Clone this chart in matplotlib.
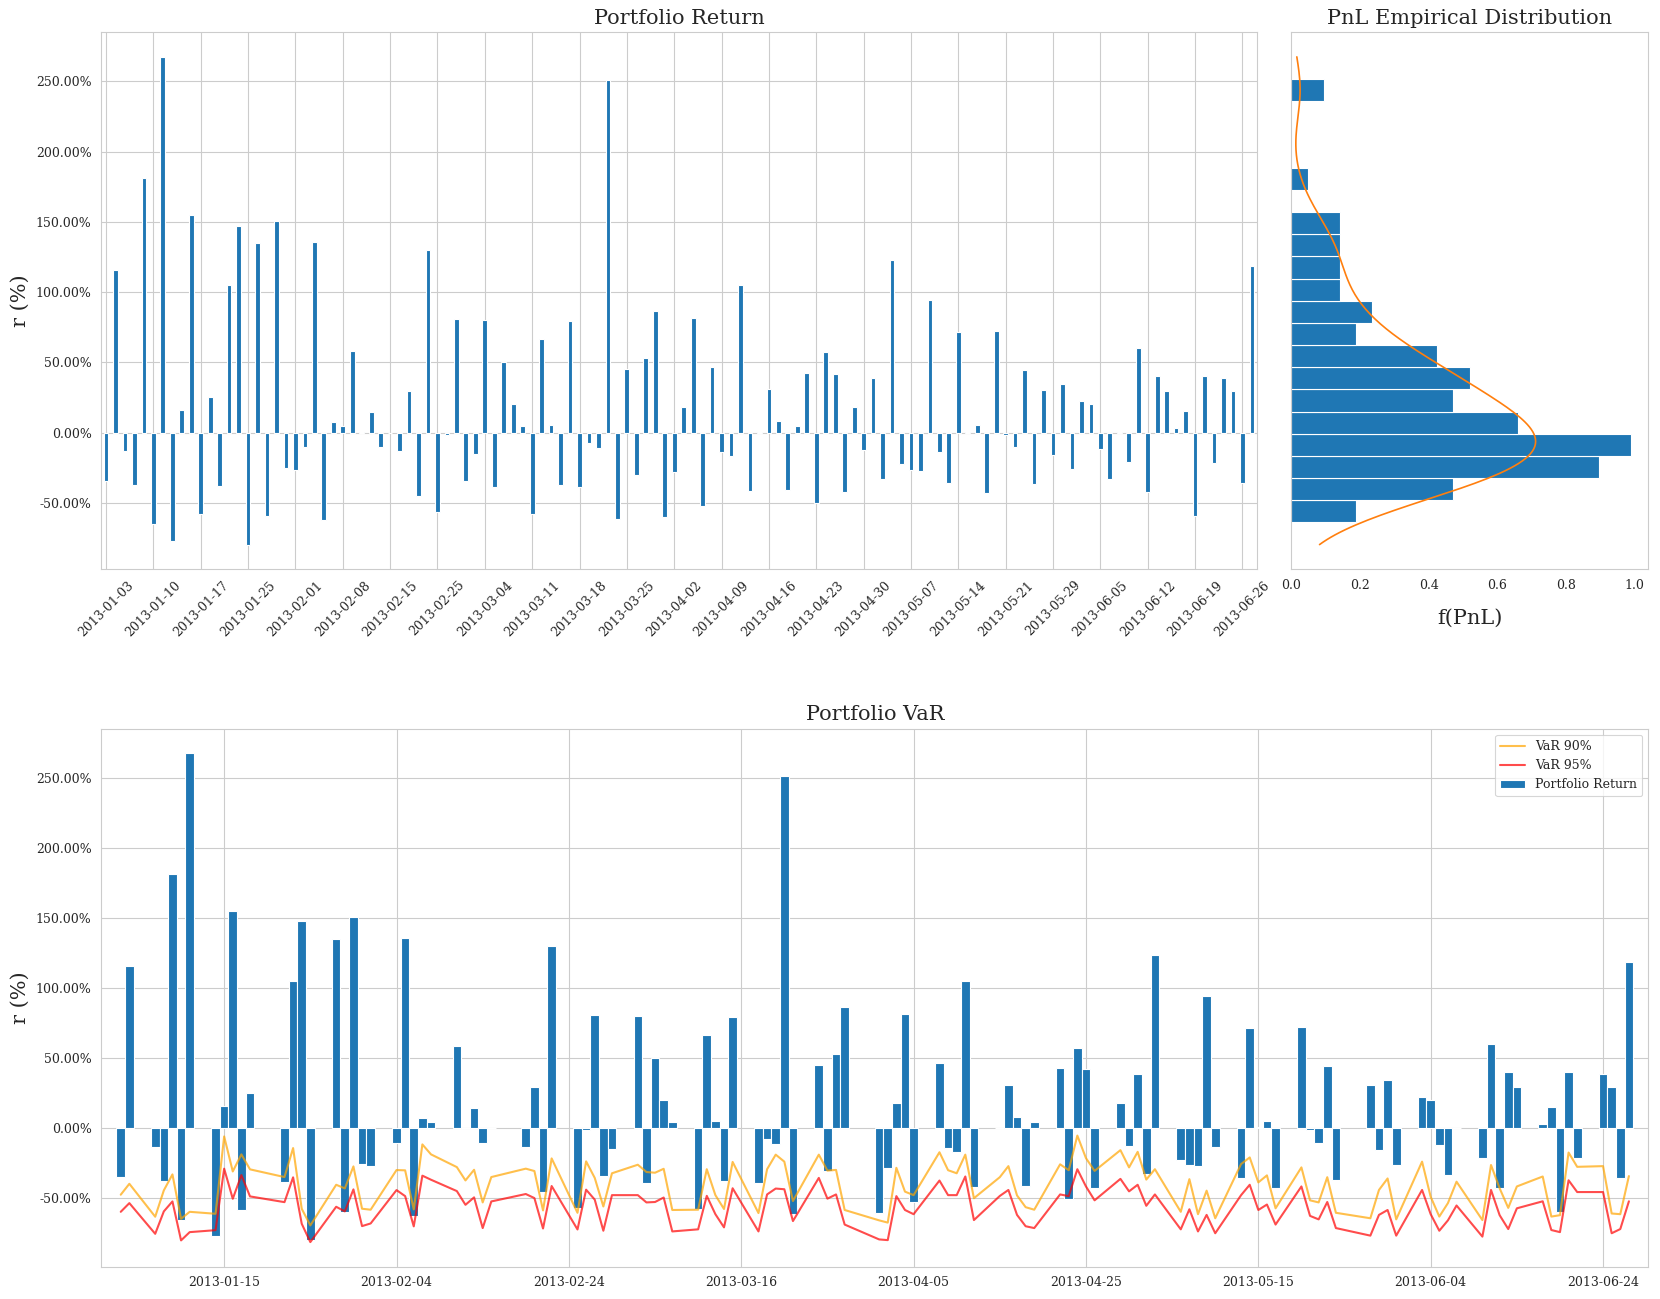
import numpy as np
import pandas as pd
import matplotlib
matplotlib.use("Agg")
import matplotlib.pyplot as plt
import matplotlib.dates as mdates
import matplotlib.ticker as mtick
import seaborn as sns

sns.set_style("whitegrid")
plt.rcParams["font.family"] = "serif"
plt.rcParams["patch.linewidth"] = 0.8

# trading days (NYSE calendar, Jan 3 - Jun 27 2013)
dates = pd.bdate_range("2013-01-03", "2013-06-27")
dates = dates.drop(pd.to_datetime(["2013-01-21", "2013-02-18", "2013-03-29", "2013-05-27"]))

# portfolio return (%)
returns = [
    -34.8, 115.8, -13.3, -37.6, 181.2, -65.5, 267.5, -76.9, 15.8, 154.6,
    -58.3, 25.2, -38.3, 105.0, 147.4, -79.8, 135.2, -59.8, 150.3, -25.5,
    -26.9, -10.5, 135.9, -62.6, 7.4, 4.3, 58.2, 0.3, 14.4, -10.5,
    -0.3, -13.3, 29.5, -45.5, 130.2, -56.9, -1.7, 81.0, -34.3, -15.3,
    80.2, -39.0, 50.1, 20.2, 4.4, -57.8, 66.7, 5.2, -37.5, 79.5,
    -39.0, -7.7, -11.1, 251.3, -61.5, 45.2, -30.6, 53.1, 86.7, -60.5,
    -28.4, 18.0, 81.7, -52.6, 46.7, -14.1, -17.0, 104.7, -42.0, 0.3,
    30.9, 7.9, -41.2, 4.4, 42.5, -50.4, 57.3, 42.0, -42.7, 18.0,
    -12.6, 38.8, -32.8, 123.2, -22.7, -26.4, -27.2, 94.5, -13.6, -35.8,
    71.6, 0.7, 5.2, -43.0, 72.3, -1.7, -10.6, 44.4, -37.0, 30.4,
    -16.0, 34.3, -26.2, 22.2, 20.2, -11.9, -33.3, 0.3, -21.2, 60.2,
    -42.7, 40.2, 29.4, 3.0, 15.1, -59.7, 40.2, -21.7, 38.8, 29.4,
    -36.0, 118.3,
]

# VaR 90% (%)
var90 = [
    -47.6, -39.8, -63.3, -44.5, -33.1, -64.8, -59.8, -61.2, -6.0, -31.0,
    -18.8, -29.5, -35.0, -14.3, -57.6, -69.5, -40.5, -43.1, -27.4, -57.6,
    -58.3, -30.0, -30.2, -58.1, -11.7, -18.8, -27.9, -37.4, -29.8, -53.1,
    -35.0, -29.0, -30.7, -58.8, -21.7, -60.5, -23.8, -35.6, -56.0, -32.3,
    -26.2, -31.4, -31.9, -29.1, -58.5, -58.3, -29.4, -47.9, -57.8, -24.2,
    -60.7, -29.4, -19.0, -24.0, -52.1, -19.0, -30.4, -29.9, -58.5, -65.9,
    -67.5, -28.4, -45.4, -47.9, -17.3, -30.1, -32.3, -19.0, -50.1, -35.1,
    -27.2, -48.1, -56.5, -58.3, -25.9, -30.1, -5.4, -21.5, -30.6, -15.8,
    -28.1, -17.0, -36.8, -29.4, -59.8, -36.5, -61.5, -44.7, -64.4, -25.7,
    -21.0, -38.8, -33.8, -57.3, -28.1, -51.6, -53.1, -35.1, -60.5, -64.4,
    -44.2, -36.0, -65.2, -24.0, -49.1, -63.2, -53.6, -38.3, -65.7, -26.4,
    -43.0, -57.0, -41.7, -34.6, -63.2, -62.2, -17.5, -27.7, -27.2, -61.0,
    -61.5, -34.3,
]

# VaR 95% (%)
var95 = [
    -59.8, -53.6, -75.5, -59.5, -52.4, -80.2, -74.3, -72.9, -29.0, -50.5,
    -33.6, -48.8, -52.9, -35.2, -68.3, -81.4, -56.2, -59.5, -43.8, -70.0,
    -68.1, -44.3, -48.6, -70.2, -34.0, -36.9, -45.0, -54.8, -49.5, -71.4,
    -52.4, -47.1, -50.0, -71.7, -41.4, -72.4, -44.0, -51.1, -73.3, -47.9,
    -47.9, -53.1, -52.8, -49.6, -73.8, -72.3, -48.4, -61.5, -70.9, -43.0,
    -73.8, -47.4, -43.2, -43.7, -66.4, -35.6, -50.4, -47.4, -68.9, -79.5,
    -80.0, -48.6, -58.5, -61.5, -37.5, -47.9, -47.9, -34.6, -65.7, -48.5,
    -44.2, -62.0, -70.1, -71.4, -47.4, -48.6, -29.4, -41.7, -51.6, -36.3,
    -45.2, -40.5, -55.5, -47.4, -72.3, -58.0, -73.8, -62.0, -75.1, -47.9,
    -40.5, -58.5, -54.6, -68.9, -41.7, -62.7, -65.2, -52.8, -71.4, -76.8,
    -62.0, -58.5, -76.8, -44.2, -61.5, -73.3, -65.9, -55.3, -77.5, -44.2,
    -62.2, -72.1, -57.3, -52.3, -72.8, -74.3, -37.3, -45.7, -45.7, -75.1,
    -72.1, -52.3,
]

ret = np.array(returns) / 100
v90 = np.array(var90) / 100
v95 = np.array(var95) / 100
pct = mtick.FuncFormatter(lambda y, _: "{:.2%}".format(y))

fig = plt.figure(figsize=(16.6, 12.99), dpi=100)
ax1 = fig.add_axes([0.061, 0.562, 0.696, 0.413])
ax2 = fig.add_axes([0.778, 0.562, 0.215, 0.413])
ax3 = fig.add_axes([0.061, 0.025, 0.932, 0.414])

# portfolio return, one bar per trading day
pos = np.arange(len(ret))
ax1.bar(pos, ret, width=0.5, color="C0")
ax1.set_xlim(-0.5, len(ret) - 0.5)
ax1.set_xticks(pos[::5])
ax1.set_xticklabels([d.strftime("%Y-%m-%d") for d in dates[::5]], rotation=45)
ax1.yaxis.set_major_formatter(pct)
ax1.tick_params(labelsize=9)
ax1.set_title("Portfolio Return", fontsize=15)
ax1.set_ylabel("r (%)", fontsize=15)

# empirical distribution
lo = ret.min() - 0.05 * (ret.max() - ret.min())
hi = ret.max() + 0.05 * (ret.max() - ret.min())
ax2.hist(ret, bins=20, density=True, orientation="horizontal", color="C0")
sns.kdeplot(y=ret, ax=ax2, color="C1", linewidth=1.2, clip=(lo, hi))
ax2.grid(False)
ax2.set_yticks([])
ax2.set_ylabel("")
ax2.tick_params(labelsize=9)
ax2.set_title("PnL Empirical Distribution", fontsize=15)
ax2.set_xlabel("f(PnL)", fontsize=15, labelpad=12)

# VaR
x = mdates.date2num(dates)
ax3.plot(x, v90, color="orange", alpha=0.7, label="VaR 90%")
ax3.plot(x, v95, color="red", alpha=0.7, label="VaR 95%")
ax3.bar(x, ret, width=1.0, color="C0", label="Portfolio Return")
ax3.margins(x=0.01)
ax3.xaxis.set_major_formatter(mdates.DateFormatter("%Y-%m-%d"))
ax3.yaxis.set_major_formatter(pct)
ax3.tick_params(labelsize=9)
ax3.set_title("Portfolio VaR", fontsize=15)
ax3.set_ylabel("r (%)", fontsize=15)
ax3.legend(loc="upper right", fontsize=9)

fig.savefig("out.png", dpi=100)
